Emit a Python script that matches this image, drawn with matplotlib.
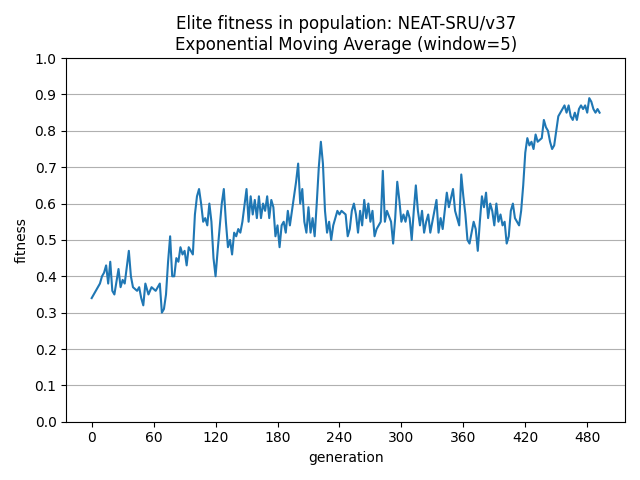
import matplotlib
matplotlib.use('Agg')
import matplotlib.pyplot as plt

generations = [0, 4, 8, 10, 12, 14, 16, 18, 20, 22, 26, 28, 30, 32, 36, 38, 40, 44, 46, 48,
               50, 52, 55, 58, 62, 66, 68, 70, 72, 74, 76, 78, 80, 82, 84, 86, 88, 90, 92, 94,
               96, 98, 100, 102, 104, 106, 108, 110, 112, 114, 116, 118, 120, 122, 126, 128, 130, 132, 134, 136,
               138, 140, 142, 144, 146, 150, 152, 154, 156, 158, 160, 162, 164, 166, 168, 170, 172, 174, 176, 178,
               180, 182, 184, 186, 188, 190, 192, 196, 198, 200, 202, 204, 206, 208, 210, 212, 214, 216, 218, 220,
               222, 224, 226, 228, 230, 232, 234, 238, 240, 242, 246, 248, 250, 252, 254, 256, 258, 260, 262, 264,
               266, 268, 270, 272, 274, 276, 280, 282, 284, 286, 290, 292, 294, 296, 298, 300, 302, 304, 306, 308,
               310, 312, 314, 316, 318, 320, 322, 324, 326, 328, 332, 334, 336, 338, 340, 342, 344, 346, 350, 352,
               356, 358, 360, 362, 364, 366, 368, 370, 372, 374, 376, 378, 380, 382, 384, 386, 388, 390, 392, 394,
               396, 398, 400, 402, 404, 406, 408, 410, 412, 414, 416, 418, 420, 422, 424, 426, 428, 430, 432, 436,
               438, 440, 442, 444, 446, 448, 450, 452, 454, 456, 458, 460, 462, 464, 466, 468, 470, 472, 474, 476,
               478, 480, 482, 484, 486, 488, 490, 492]
fitness = [0.34, 0.36, 0.38, 0.40, 0.41, 0.43, 0.38, 0.44, 0.36, 0.35, 0.42, 0.37, 0.39, 0.38, 0.47, 0.40, 0.37, 0.36, 0.37, 0.34,
           0.32, 0.38, 0.35, 0.37, 0.36, 0.38, 0.30, 0.31, 0.35, 0.44, 0.51, 0.40, 0.40, 0.45, 0.44, 0.48, 0.46, 0.47, 0.43, 0.48,
           0.47, 0.46, 0.57, 0.62, 0.64, 0.60, 0.55, 0.56, 0.54, 0.60, 0.55, 0.45, 0.40, 0.47, 0.60, 0.64, 0.55, 0.48, 0.50, 0.46,
           0.52, 0.51, 0.53, 0.52, 0.55, 0.64, 0.55, 0.62, 0.57, 0.61, 0.56, 0.62, 0.56, 0.60, 0.58, 0.62, 0.56, 0.61, 0.59, 0.51,
           0.54, 0.48, 0.54, 0.55, 0.52, 0.58, 0.54, 0.62, 0.66, 0.71, 0.60, 0.64, 0.55, 0.52, 0.59, 0.52, 0.56, 0.51, 0.60, 0.70,
           0.77, 0.71, 0.58, 0.52, 0.55, 0.50, 0.54, 0.58, 0.57, 0.58, 0.57, 0.51, 0.53, 0.58, 0.60, 0.57, 0.52, 0.58, 0.54, 0.61,
           0.56, 0.60, 0.55, 0.58, 0.51, 0.53, 0.55, 0.69, 0.55, 0.58, 0.55, 0.49, 0.56, 0.66, 0.61, 0.55, 0.57, 0.55, 0.58, 0.56,
           0.50, 0.58, 0.65, 0.58, 0.54, 0.58, 0.52, 0.55, 0.57, 0.52, 0.58, 0.61, 0.52, 0.56, 0.53, 0.58, 0.63, 0.59, 0.64, 0.58,
           0.54, 0.68, 0.62, 0.57, 0.50, 0.49, 0.52, 0.55, 0.53, 0.47, 0.55, 0.62, 0.59, 0.63, 0.56, 0.60, 0.58, 0.54, 0.60, 0.55,
           0.57, 0.54, 0.55, 0.49, 0.51, 0.58, 0.60, 0.56, 0.55, 0.54, 0.58, 0.65, 0.74, 0.78, 0.76, 0.77, 0.75, 0.79, 0.77, 0.78,
           0.83, 0.81, 0.80, 0.77, 0.75, 0.76, 0.80, 0.84, 0.85, 0.86, 0.87, 0.85, 0.87, 0.84, 0.83, 0.85, 0.83, 0.86, 0.87, 0.86,
           0.87, 0.85, 0.89, 0.88, 0.86, 0.85, 0.86, 0.85]

fig, ax = plt.subplots(figsize=(6.4, 4.8), dpi=100)
ax.plot(generations, fitness)
ax.set_title('Elite fitness in population: NEAT-SRU/v37\nExponential Moving Average (window=5)')
ax.set_xlabel('generation')
ax.set_ylabel('fitness')
ax.set_ylim(0, 1.0)
ax.set_yticks([i / 10 for i in range(11)])
ax.set_xticks(range(0, 481, 60))
ax.grid(axis='y')
fig.tight_layout()
fig.savefig('out.png')
